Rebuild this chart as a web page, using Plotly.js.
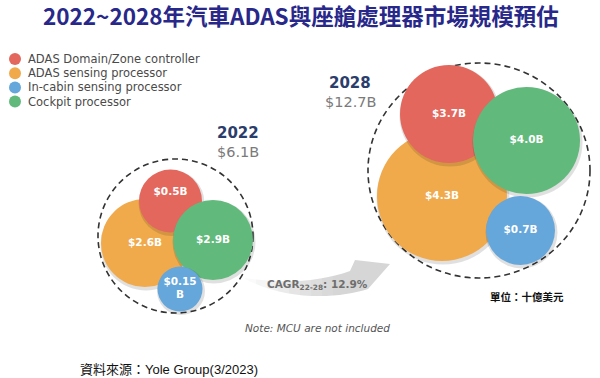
<!DOCTYPE html>
<html>
<head>
<meta charset="utf-8">
<script src="https://cdn.plot.ly/plotly-3.0.1.min.js"></script>
<style>html,body{margin:0;padding:0;background:#fff;}#chart{width:600px;height:378px;}</style>
</head>
<body>
<div id="chart"></div>
<script>
// ---------------- DATA ----------------
const years = ['2022', '2028'];
const totals = [6.1, 12.7];
const categories = ['ADAS Domain/Zone controller', 'ADAS sensing processor', 'In-cabin sensing processor', 'Cockpit processor'];
const domainZone = [0.5, 3.7];
const sensing = [2.6, 4.3];
const inCabin = [0.15, 0.7];
const cockpit = [2.9, 4.0];
const cagr = 12.9;
const cagrPeriod = '22-28';
const titleText = '2022~2028年汽車ADAS與座艙處理器市場規模預估';
const noteText = 'Note: MCU are not included';
const unitText = '單位：十億美元';
const sourceText = '資料來源：Yole Group(3/2023)';

// ---------------- STYLE / LAYOUT ----------------
const colors = ['#e3675d', '#f0aa4c', '#65a6db', '#62b97c'];
const seriesValues = [domainZone, sensing, inCabin, cockpit];
// bubble placement (pixel space): [cx, cy, r, labelDy] per category per year
const bubblePos = [
  [[170.5, 201, 31.5, -9], [449, 114, 49, 0]],
  [[145, 243, 44, 0], [442, 196, 65, 0]],
  [[180, 289, 22.5, 0], [520.5, 230.5, 34.5, 0]],
  [[213, 240, 40, 0], [526.5, 140.5, 53.5, 0]]
];
const drawOrder = [1, 0, 3, 2];
const groupOutline = [[175.5, 236, 77.5, 77], [479, 170.5, 111, 107.5]];
const yearLabelPos = [[238, 133], [350, 83]];
const legendX = 15, legendY0 = 59, legendDy = 14.2;

function fmt(v) {
  const s = v < 0.2 ? v.toFixed(2) : v.toFixed(1);
  return '$' + s;
}

const traces = [];
drawOrder.forEach(ci => {
  const pos = bubblePos[ci];
  // soft shadow
  traces.push({
    type: 'scatter', mode: 'markers', hoverinfo: 'skip', showlegend: false,
    x: pos.map(p => p[0] + 1), y: pos.map(p => p[1] + 2),
    marker: {size: pos.map(p => 2 * p[2] + 3), color: 'rgba(0,0,0,0.12)', opacity: 1, line: {width: 0}}
  });
  traces.push({
    type: 'scatter', mode: 'markers', name: categories[ci], showlegend: false,
    x: pos.map(p => p[0]), y: pos.map(p => p[1]),
    customdata: seriesValues[ci],
    marker: {size: pos.map(p => 2 * p[2]), sizemode: 'diameter', color: colors[ci], opacity: 1, line: {width: 0}},
    hovertemplate: '%{customdata}B<extra>' + categories[ci] + '</extra>'
  });
});
// labels on top
drawOrder.forEach(ci => {
  const pos = bubblePos[ci];
  traces.push({
    type: 'scatter', mode: 'text', hoverinfo: 'skip', showlegend: false,
    x: pos.map(p => p[0]), y: pos.map(p => p[1] + p[3]),
    text: seriesValues[ci].map((v, i) => pos[i][2] < 25 ? fmt(v) + '<br>B' : fmt(v) + 'B'),
    textposition: 'middle center',
    textfont: {family: 'DejaVu Sans', size: 10.5, color: '#ffffff', weight: 'bold'}
  });
});

const shapes = [];
// dashed group outlines
groupOutline.forEach(g => {
  shapes.push({type: 'circle', xref: 'x', yref: 'y', layer: 'below',
    x0: g[0] - g[2], x1: g[0] + g[2], y0: g[1] - g[3], y1: g[1] + g[3],
    line: {color: '#333333', width: 1.6, dash: '6px,4px'}});
});
// growth arrow
shapes.push({type: 'path', xref: 'x', yref: 'y', layer: 'above',
  path: 'M 245,278 C 280,284 320,282 350,271 L 355,260 L 390,264 L 368,289 C 340,298 290,302 245,279 Z',
  fillcolor: '#d6d6d6', line: {width: 0}});
// fade of the arrow tail
const fade = [0.88, 0.75, 0.62, 0.5, 0.38, 0.27, 0.17, 0.08];
fade.forEach((o, i) => {
  shapes.push({type: 'rect', xref: 'x', yref: 'y', layer: 'above',
    x0: 245 + i * 11, x1: 245 + (i + 1) * 11, y0: 270, y1: 303,
    fillcolor: 'rgba(255,255,255,' + o + ')', line: {width: 0}});
});
// legend swatches
categories.forEach((c, i) => {
  const cy = legendY0 + i * legendDy;
  shapes.push({type: 'circle', xref: 'x', yref: 'y',
    x0: legendX - 6, x1: legendX + 6, y0: cy - 6, y1: cy + 6,
    fillcolor: colors[i], line: {width: 0}});
});

const annotations = [];
annotations.push({text: titleText, x: 301, y: 15, xref: 'x', yref: 'y', showarrow: false,
  font: {family: 'Noto Sans CJK TC', size: 22.5, color: '#28288a', weight: 'bold'}});
categories.forEach((c, i) => {
  annotations.push({text: c, x: legendX + 11, y: legendY0 + i * legendDy, xref: 'x', yref: 'y',
    xanchor: 'left', showarrow: false,
    font: {family: 'DejaVu Sans', size: 11.5, color: '#4a4a4a'}});
});
years.forEach((yr, i) => {
  annotations.push({text: yr, x: yearLabelPos[i][0], y: yearLabelPos[i][1], xref: 'x', yref: 'y',
    showarrow: false, font: {family: 'DejaVu Sans', size: 15, color: '#2b3d6b', weight: 'bold'}});
  annotations.push({text: '$' + totals[i].toFixed(1) + 'B', x: yearLabelPos[i][0], y: yearLabelPos[i][1] + 19,
    xref: 'x', yref: 'y', showarrow: false,
    font: {family: 'DejaVu Sans', size: 14.5, color: '#7a7a7a'}});
});
annotations.push({text: 'CAGR<sub>' + cagrPeriod + '</sub>: ' + cagr.toFixed(1) + '%', x: 317, y: 285,
  xref: 'x', yref: 'y', showarrow: false,
  font: {family: 'DejaVu Sans', size: 10.5, color: '#6e6e6e', weight: 'bold'}});
annotations.push({text: '<i>' + noteText + '</i>', x: 317, y: 328, xref: 'x', yref: 'y', showarrow: false,
  font: {family: 'DejaVu Sans', size: 10.5, color: '#555555'}});
annotations.push({text: unitText, x: 527, y: 296, xref: 'x', yref: 'y', showarrow: false,
  font: {family: 'Noto Sans CJK TC', size: 10.5, color: '#111111', weight: 'bold'}});
annotations.push({text: sourceText, x: 169, y: 369, xref: 'x', yref: 'y', showarrow: false,
  font: {family: 'Liberation Sans, Noto Sans CJK TC', size: 13, color: '#111111'}});

const layout = {
  width: 600, height: 378,
  margin: {l: 0, r: 0, t: 0, b: 0},
  paper_bgcolor: '#ffffff', plot_bgcolor: '#ffffff',
  xaxis: {range: [0, 600], visible: false, fixedrange: true},
  yaxis: {range: [378, 0], visible: false, fixedrange: true},
  showlegend: false,
  shapes: shapes,
  annotations: annotations
};

Plotly.newPlot('chart', traces, layout, {displayModeBar: false});
</script>
</body>
</html>
